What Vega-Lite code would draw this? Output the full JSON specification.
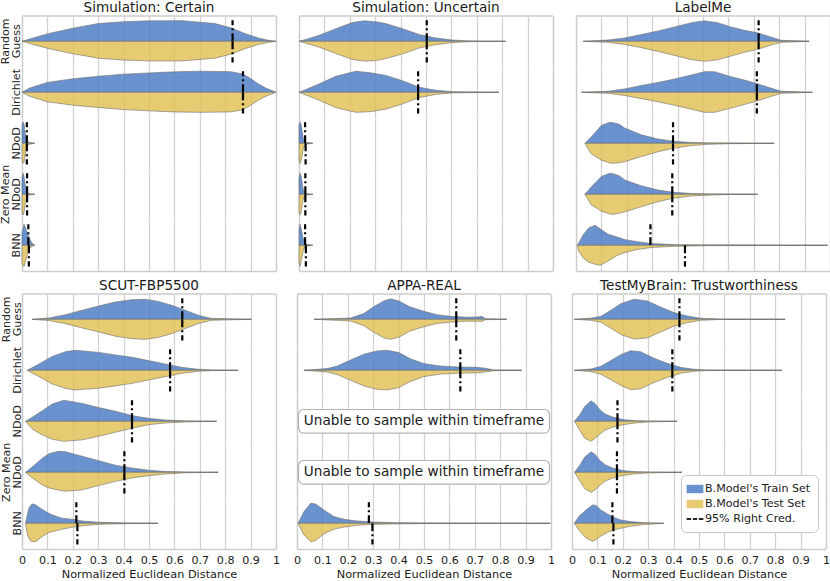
{
"$schema": "https://vega.github.io/schema/vega-lite/v6.json",
"padding": {"left": 0, "top": 1, "right": 0, "bottom": 0},
"background": "white",
"config": {"font": "DejaVu Sans", "view": {"stroke": null}},
"data": {"values": [
{"d":"SC","m":"RG","x":0,"a":0,"b":0},{"d":"SC","m":"RG","x":0.05,"a":0.18,"b":0.17},{"d":"SC","m":"RG","x":0.106,"a":0.37,"b":0.35},{"d":"SC","m":"RG","x":0.2,"a":0.62,"b":0.59},{"d":"SC","m":"RG","x":0.3,"a":0.84,"b":0.8},{"d":"SC","m":"RG","x":0.4,"a":0.93,"b":0.89},{"d":"SC","m":"RG","x":0.5,"a":0.97,"b":0.93},{"d":"SC","m":"RG","x":0.63,"a":0.98,"b":0.93},{"d":"SC","m":"RG","x":0.76,"a":0.84,"b":0.8},{"d":"SC","m":"RG","x":0.825,"a":0.63,"b":0.6},{"d":"SC","m":"RG","x":0.877,"a":0.37,"b":0.35},{"d":"SC","m":"RG","x":0.93,"a":0.16,"b":0.15},{"d":"SC","m":"RG","x":0.97,"a":0.05,"b":0.05},{"d":"SC","m":"RG","x":1,"a":0,"b":0},
{"d":"SC","m":"DI","x":0,"a":0,"b":0},{"d":"SC","m":"DI","x":0.03,"a":0.2,"b":0.19},{"d":"SC","m":"DI","x":0.1,"a":0.47,"b":0.45},{"d":"SC","m":"DI","x":0.2,"a":0.64,"b":0.61},{"d":"SC","m":"DI","x":0.3,"a":0.76,"b":0.72},{"d":"SC","m":"DI","x":0.4,"a":0.86,"b":0.82},{"d":"SC","m":"DI","x":0.5,"a":0.92,"b":0.88},{"d":"SC","m":"DI","x":0.6,"a":0.97,"b":0.93},{"d":"SC","m":"DI","x":0.7,"a":1,"b":0.95},{"d":"SC","m":"DI","x":0.82,"a":0.98,"b":0.93},{"d":"SC","m":"DI","x":0.87,"a":0.87,"b":0.83},{"d":"SC","m":"DI","x":0.9,"a":0.65,"b":0.62},{"d":"SC","m":"DI","x":0.93,"a":0.4,"b":0.38},{"d":"SC","m":"DI","x":0.96,"a":0.2,"b":0.19},{"d":"SC","m":"DI","x":1,"a":0,"b":0},
{"d":"SC","m":"ND","x":0,"a":0.85,"b":0.8},{"d":"SC","m":"ND","x":0.004,"a":1,"b":0.95},{"d":"SC","m":"ND","x":0.008,"a":0.9,"b":0.9},{"d":"SC","m":"ND","x":0.012,"a":0.55,"b":0.6},{"d":"SC","m":"ND","x":0.016,"a":0.25,"b":0.3},{"d":"SC","m":"ND","x":0.02,"a":0.1,"b":0.12},{"d":"SC","m":"ND","x":0.03,"a":0.04,"b":0.04},{"d":"SC","m":"ND","x":0.05,"a":0,"b":0},
{"d":"SC","m":"ZM","x":0,"a":0.8,"b":0.85},{"d":"SC","m":"ZM","x":0.004,"a":1,"b":0.97},{"d":"SC","m":"ZM","x":0.008,"a":0.85,"b":0.88},{"d":"SC","m":"ZM","x":0.012,"a":0.5,"b":0.55},{"d":"SC","m":"ZM","x":0.016,"a":0.22,"b":0.25},{"d":"SC","m":"ZM","x":0.02,"a":0.09,"b":0.1},{"d":"SC","m":"ZM","x":0.03,"a":0.03,"b":0.03},{"d":"SC","m":"ZM","x":0.05,"a":0,"b":0},
{"d":"SC","m":"BN","x":0,"a":0.6,"b":0.9},{"d":"SC","m":"BN","x":0.008,"a":1,"b":1},{"d":"SC","m":"BN","x":0.015,"a":0.8,"b":0.7},{"d":"SC","m":"BN","x":0.022,"a":0.55,"b":0.4},{"d":"SC","m":"BN","x":0.03,"a":0.3,"b":0.15},{"d":"SC","m":"BN","x":0.04,"a":0.1,"b":0.05},{"d":"SC","m":"BN","x":0.05,"a":0,"b":0},
{"d":"SU","m":"RG","x":0,"a":0,"b":0},{"d":"SU","m":"RG","x":0.03,"a":0.1,"b":0.1},{"d":"SU","m":"RG","x":0.08,"a":0.29,"b":0.28},{"d":"SU","m":"RG","x":0.145,"a":0.6,"b":0.58},{"d":"SU","m":"RG","x":0.21,"a":0.89,"b":0.86},{"d":"SU","m":"RG","x":0.257,"a":0.97,"b":0.94},{"d":"SU","m":"RG","x":0.3,"a":0.93,"b":0.92},{"d":"SU","m":"RG","x":0.342,"a":0.84,"b":0.82},{"d":"SU","m":"RG","x":0.407,"a":0.6,"b":0.6},{"d":"SU","m":"RG","x":0.473,"a":0.32,"b":0.32},{"d":"SU","m":"RG","x":0.538,"a":0.16,"b":0.16},{"d":"SU","m":"RG","x":0.604,"a":0.06,"b":0.06},{"d":"SU","m":"RG","x":0.669,"a":0.02,"b":0.02},{"d":"SU","m":"RG","x":0.813,"a":0,"b":0},
{"d":"SU","m":"DI","x":0,"a":0,"b":0},{"d":"SU","m":"DI","x":0.03,"a":0.15,"b":0.14},{"d":"SU","m":"DI","x":0.08,"a":0.4,"b":0.38},{"d":"SU","m":"DI","x":0.145,"a":0.76,"b":0.73},{"d":"SU","m":"DI","x":0.224,"a":1,"b":0.95},{"d":"SU","m":"DI","x":0.28,"a":0.93,"b":0.92},{"d":"SU","m":"DI","x":0.342,"a":0.8,"b":0.8},{"d":"SU","m":"DI","x":0.407,"a":0.55,"b":0.55},{"d":"SU","m":"DI","x":0.473,"a":0.24,"b":0.25},{"d":"SU","m":"DI","x":0.538,"a":0.1,"b":0.1},{"d":"SU","m":"DI","x":0.604,"a":0.03,"b":0.03},{"d":"SU","m":"DI","x":0.787,"a":0,"b":0},
{"d":"SU","m":"ND","x":0,"a":0.85,"b":0.8},{"d":"SU","m":"ND","x":0.004,"a":1,"b":0.95},{"d":"SU","m":"ND","x":0.008,"a":0.9,"b":0.85},{"d":"SU","m":"ND","x":0.012,"a":0.6,"b":0.6},{"d":"SU","m":"ND","x":0.016,"a":0.3,"b":0.3},{"d":"SU","m":"ND","x":0.02,"a":0.12,"b":0.12},{"d":"SU","m":"ND","x":0.03,"a":0.04,"b":0.04},{"d":"SU","m":"ND","x":0.054,"a":0,"b":0},
{"d":"SU","m":"ZM","x":0,"a":0.8,"b":0.85},{"d":"SU","m":"ZM","x":0.004,"a":1,"b":0.97},{"d":"SU","m":"ZM","x":0.008,"a":0.88,"b":0.85},{"d":"SU","m":"ZM","x":0.012,"a":0.58,"b":0.55},{"d":"SU","m":"ZM","x":0.016,"a":0.28,"b":0.27},{"d":"SU","m":"ZM","x":0.02,"a":0.1,"b":0.1},{"d":"SU","m":"ZM","x":0.03,"a":0.03,"b":0.03},{"d":"SU","m":"ZM","x":0.054,"a":0,"b":0},
{"d":"SU","m":"BN","x":0,"a":0.7,"b":0.8},{"d":"SU","m":"BN","x":0.004,"a":1,"b":1},{"d":"SU","m":"BN","x":0.01,"a":0.7,"b":0.65},{"d":"SU","m":"BN","x":0.015,"a":0.4,"b":0.35},{"d":"SU","m":"BN","x":0.02,"a":0.15,"b":0.12},{"d":"SU","m":"BN","x":0.03,"a":0.05,"b":0.04},{"d":"SU","m":"BN","x":0.054,"a":0,"b":0},
{"d":"LM","m":"RG","x":0.029,"a":0,"b":0},{"d":"LM","m":"RG","x":0.127,"a":0.06,"b":0.05},{"d":"LM","m":"RG","x":0.192,"a":0.16,"b":0.15},{"d":"LM","m":"RG","x":0.257,"a":0.32,"b":0.3},{"d":"LM","m":"RG","x":0.323,"a":0.49,"b":0.48},{"d":"LM","m":"RG","x":0.388,"a":0.68,"b":0.67},{"d":"LM","m":"RG","x":0.454,"a":0.88,"b":0.87},{"d":"LM","m":"RG","x":0.506,"a":0.97,"b":0.95},{"d":"LM","m":"RG","x":0.558,"a":0.88,"b":0.88},{"d":"LM","m":"RG","x":0.61,"a":0.68,"b":0.7},{"d":"LM","m":"RG","x":0.663,"a":0.52,"b":0.52},{"d":"LM","m":"RG","x":0.715,"a":0.4,"b":0.38},{"d":"LM","m":"RG","x":0.767,"a":0.2,"b":0.18},{"d":"LM","m":"RG","x":0.807,"a":0.05,"b":0.05},{"d":"LM","m":"RG","x":0.918,"a":0,"b":0},
{"d":"LM","m":"DI","x":0.022,"a":0,"b":0},{"d":"LM","m":"DI","x":0.127,"a":0.05,"b":0.05},{"d":"LM","m":"DI","x":0.192,"a":0.16,"b":0.15},{"d":"LM","m":"DI","x":0.257,"a":0.32,"b":0.3},{"d":"LM","m":"DI","x":0.323,"a":0.47,"b":0.45},{"d":"LM","m":"DI","x":0.388,"a":0.63,"b":0.62},{"d":"LM","m":"DI","x":0.454,"a":0.82,"b":0.8},{"d":"LM","m":"DI","x":0.506,"a":0.98,"b":0.95},{"d":"LM","m":"DI","x":0.545,"a":0.98,"b":0.95},{"d":"LM","m":"DI","x":0.61,"a":0.74,"b":0.75},{"d":"LM","m":"DI","x":0.663,"a":0.58,"b":0.58},{"d":"LM","m":"DI","x":0.715,"a":0.4,"b":0.4},{"d":"LM","m":"DI","x":0.767,"a":0.2,"b":0.2},{"d":"LM","m":"DI","x":0.807,"a":0.05,"b":0.05},{"d":"LM","m":"DI","x":0.931,"a":0,"b":0},
{"d":"LM","m":"ND","x":0.035,"a":0,"b":0},{"d":"LM","m":"ND","x":0.06,"a":0.3,"b":0.5},{"d":"LM","m":"ND","x":0.1,"a":0.85,"b":0.8},{"d":"LM","m":"ND","x":0.133,"a":1,"b":0.93},{"d":"LM","m":"ND","x":0.146,"a":0.98,"b":0.95},{"d":"LM","m":"ND","x":0.17,"a":0.9,"b":0.92},{"d":"LM","m":"ND","x":0.192,"a":0.72,"b":0.87},{"d":"LM","m":"ND","x":0.257,"a":0.4,"b":0.63},{"d":"LM","m":"ND","x":0.323,"a":0.2,"b":0.4},{"d":"LM","m":"ND","x":0.382,"a":0.1,"b":0.24},{"d":"LM","m":"ND","x":0.454,"a":0.04,"b":0.11},{"d":"LM","m":"ND","x":0.52,"a":0.02,"b":0.05},{"d":"LM","m":"ND","x":0.6,"a":0.01,"b":0.02},{"d":"LM","m":"ND","x":0.78,"a":0,"b":0},
{"d":"LM","m":"ZM","x":0.035,"a":0,"b":0},{"d":"LM","m":"ZM","x":0.06,"a":0.35,"b":0.5},{"d":"LM","m":"ZM","x":0.1,"a":0.85,"b":0.8},{"d":"LM","m":"ZM","x":0.133,"a":1,"b":0.93},{"d":"LM","m":"ZM","x":0.146,"a":0.98,"b":0.95},{"d":"LM","m":"ZM","x":0.17,"a":0.88,"b":0.9},{"d":"LM","m":"ZM","x":0.192,"a":0.68,"b":0.83},{"d":"LM","m":"ZM","x":0.257,"a":0.4,"b":0.59},{"d":"LM","m":"ZM","x":0.323,"a":0.2,"b":0.35},{"d":"LM","m":"ZM","x":0.382,"a":0.1,"b":0.19},{"d":"LM","m":"ZM","x":0.454,"a":0.04,"b":0.08},{"d":"LM","m":"ZM","x":0.52,"a":0.02,"b":0.04},{"d":"LM","m":"ZM","x":0.6,"a":0.01,"b":0.01},{"d":"LM","m":"ZM","x":0.715,"a":0,"b":0},
{"d":"LM","m":"BN","x":0.005,"a":0,"b":0},{"d":"LM","m":"BN","x":0.01,"a":0.1,"b":0.27},{"d":"LM","m":"BN","x":0.03,"a":0.53,"b":0.62},{"d":"LM","m":"BN","x":0.05,"a":0.82,"b":0.8},{"d":"LM","m":"BN","x":0.075,"a":0.95,"b":0.9},{"d":"LM","m":"BN","x":0.095,"a":0.78,"b":0.95},{"d":"LM","m":"BN","x":0.127,"a":0.52,"b":0.74},{"d":"LM","m":"BN","x":0.16,"a":0.4,"b":0.5},{"d":"LM","m":"BN","x":0.19,"a":0.28,"b":0.35},{"d":"LM","m":"BN","x":0.24,"a":0.17,"b":0.2},{"d":"LM","m":"BN","x":0.3,"a":0.08,"b":0.1},{"d":"LM","m":"BN","x":0.39,"a":0.03,"b":0.05},{"d":"LM","m":"BN","x":0.5,"a":0.02,"b":0.02},{"d":"LM","m":"BN","x":0.65,"a":0.02,"b":0.015},{"d":"LM","m":"BN","x":0.8,"a":0.01,"b":0.01},{"d":"LM","m":"BN","x":0.99,"a":0,"b":0},
{"d":"SF","m":"RG","x":0.04,"a":0,"b":0},{"d":"SF","m":"RG","x":0.106,"a":0.06,"b":0.06},{"d":"SF","m":"RG","x":0.171,"a":0.22,"b":0.21},{"d":"SF","m":"RG","x":0.237,"a":0.43,"b":0.41},{"d":"SF","m":"RG","x":0.302,"a":0.63,"b":0.6},{"d":"SF","m":"RG","x":0.367,"a":0.82,"b":0.8},{"d":"SF","m":"RG","x":0.433,"a":0.93,"b":0.92},{"d":"SF","m":"RG","x":0.485,"a":0.95,"b":0.95},{"d":"SF","m":"RG","x":0.537,"a":0.85,"b":0.86},{"d":"SF","m":"RG","x":0.589,"a":0.67,"b":0.68},{"d":"SF","m":"RG","x":0.642,"a":0.43,"b":0.44},{"d":"SF","m":"RG","x":0.694,"a":0.19,"b":0.2},{"d":"SF","m":"RG","x":0.746,"a":0.04,"b":0.05},{"d":"SF","m":"RG","x":0.903,"a":0,"b":0},
{"d":"SF","m":"DI","x":0.021,"a":0,"b":0},{"d":"SF","m":"DI","x":0.067,"a":0.3,"b":0.3},{"d":"SF","m":"DI","x":0.119,"a":0.66,"b":0.65},{"d":"SF","m":"DI","x":0.171,"a":0.88,"b":0.86},{"d":"SF","m":"DI","x":0.21,"a":0.95,"b":0.93},{"d":"SF","m":"DI","x":0.302,"a":0.85,"b":0.85},{"d":"SF","m":"DI","x":0.367,"a":0.73,"b":0.74},{"d":"SF","m":"DI","x":0.433,"a":0.62,"b":0.62},{"d":"SF","m":"DI","x":0.498,"a":0.46,"b":0.46},{"d":"SF","m":"DI","x":0.563,"a":0.3,"b":0.3},{"d":"SF","m":"DI","x":0.629,"a":0.14,"b":0.14},{"d":"SF","m":"DI","x":0.694,"a":0.05,"b":0.05},{"d":"SF","m":"DI","x":0.746,"a":0.01,"b":0.01},{"d":"SF","m":"DI","x":0.851,"a":0,"b":0},
{"d":"SF","m":"ND","x":0.014,"a":0,"b":0},{"d":"SF","m":"ND","x":0.04,"a":0.19,"b":0.36},{"d":"SF","m":"ND","x":0.08,"a":0.5,"b":0.65},{"d":"SF","m":"ND","x":0.119,"a":0.82,"b":0.85},{"d":"SF","m":"ND","x":0.165,"a":1,"b":0.95},{"d":"SF","m":"ND","x":0.237,"a":0.85,"b":0.88},{"d":"SF","m":"ND","x":0.302,"a":0.65,"b":0.71},{"d":"SF","m":"ND","x":0.367,"a":0.48,"b":0.52},{"d":"SF","m":"ND","x":0.433,"a":0.27,"b":0.33},{"d":"SF","m":"ND","x":0.498,"a":0.14,"b":0.16},{"d":"SF","m":"ND","x":0.563,"a":0.06,"b":0.08},{"d":"SF","m":"ND","x":0.642,"a":0.02,"b":0.03},{"d":"SF","m":"ND","x":0.766,"a":0,"b":0},
{"d":"SF","m":"ZM","x":0.014,"a":0,"b":0},{"d":"SF","m":"ZM","x":0.04,"a":0.25,"b":0.27},{"d":"SF","m":"ZM","x":0.08,"a":0.67,"b":0.6},{"d":"SF","m":"ZM","x":0.106,"a":0.88,"b":0.74},{"d":"SF","m":"ZM","x":0.145,"a":1,"b":0.85},{"d":"SF","m":"ZM","x":0.171,"a":0.97,"b":0.9},{"d":"SF","m":"ZM","x":0.237,"a":0.76,"b":0.83},{"d":"SF","m":"ZM","x":0.302,"a":0.55,"b":0.63},{"d":"SF","m":"ZM","x":0.367,"a":0.34,"b":0.43},{"d":"SF","m":"ZM","x":0.433,"a":0.2,"b":0.27},{"d":"SF","m":"ZM","x":0.498,"a":0.1,"b":0.16},{"d":"SF","m":"ZM","x":0.563,"a":0.04,"b":0.08},{"d":"SF","m":"ZM","x":0.65,"a":0.01,"b":0.02},{"d":"SF","m":"ZM","x":0.772,"a":0,"b":0},
{"d":"SF","m":"BN","x":0.014,"a":0,"b":0},{"d":"SF","m":"BN","x":0.02,"a":0.35,"b":0.47},{"d":"SF","m":"BN","x":0.027,"a":0.71,"b":0.7},{"d":"SF","m":"BN","x":0.034,"a":0.85,"b":0.84},{"d":"SF","m":"BN","x":0.04,"a":0.92,"b":0.86},{"d":"SF","m":"BN","x":0.053,"a":0.88,"b":0.87},{"d":"SF","m":"BN","x":0.08,"a":0.66,"b":0.63},{"d":"SF","m":"BN","x":0.105,"a":0.48,"b":0.44},{"d":"SF","m":"BN","x":0.119,"a":0.4,"b":0.4},{"d":"SF","m":"BN","x":0.145,"a":0.29,"b":0.32},{"d":"SF","m":"BN","x":0.158,"a":0.24,"b":0.28},{"d":"SF","m":"BN","x":0.197,"a":0.19,"b":0.19},{"d":"SF","m":"BN","x":0.237,"a":0.11,"b":0.12},{"d":"SF","m":"BN","x":0.3,"a":0.05,"b":0.05},{"d":"SF","m":"BN","x":0.4,"a":0.02,"b":0.02},{"d":"SF","m":"BN","x":0.535,"a":0,"b":0},
{"d":"AR","m":"RG","x":0.067,"a":0,"b":0},{"d":"AR","m":"RG","x":0.211,"a":0.06,"b":0.08},{"d":"AR","m":"RG","x":0.263,"a":0.27,"b":0.3},{"d":"AR","m":"RG","x":0.3,"a":0.58,"b":0.6},{"d":"AR","m":"RG","x":0.342,"a":0.87,"b":0.88},{"d":"AR","m":"RG","x":0.368,"a":0.97,"b":0.95},{"d":"AR","m":"RG","x":0.401,"a":0.87,"b":0.85},{"d":"AR","m":"RG","x":0.446,"a":0.58,"b":0.55},{"d":"AR","m":"RG","x":0.499,"a":0.38,"b":0.35},{"d":"AR","m":"RG","x":0.551,"a":0.22,"b":0.2},{"d":"AR","m":"RG","x":0.604,"a":0.14,"b":0.13},{"d":"AR","m":"RG","x":0.669,"a":0.1,"b":0.09},{"d":"AR","m":"RG","x":0.71,"a":0.11,"b":0.09},{"d":"AR","m":"RG","x":0.728,"a":0.14,"b":0.1},{"d":"AR","m":"RG","x":0.741,"a":0.03,"b":0.02},{"d":"AR","m":"RG","x":0.826,"a":0,"b":0},
{"d":"AR","m":"DI","x":0.027,"a":0,"b":0},{"d":"AR","m":"DI","x":0.119,"a":0.08,"b":0.08},{"d":"AR","m":"DI","x":0.158,"a":0.2,"b":0.2},{"d":"AR","m":"DI","x":0.211,"a":0.49,"b":0.47},{"d":"AR","m":"DI","x":0.263,"a":0.76,"b":0.74},{"d":"AR","m":"DI","x":0.315,"a":0.92,"b":0.9},{"d":"AR","m":"DI","x":0.355,"a":0.95,"b":0.93},{"d":"AR","m":"DI","x":0.401,"a":0.84,"b":0.82},{"d":"AR","m":"DI","x":0.446,"a":0.55,"b":0.53},{"d":"AR","m":"DI","x":0.499,"a":0.32,"b":0.3},{"d":"AR","m":"DI","x":0.564,"a":0.2,"b":0.18},{"d":"AR","m":"DI","x":0.63,"a":0.16,"b":0.14},{"d":"AR","m":"DI","x":0.709,"a":0.14,"b":0.12},{"d":"AR","m":"DI","x":0.748,"a":0.09,"b":0.07},{"d":"AR","m":"DI","x":0.774,"a":0.02,"b":0.02},{"d":"AR","m":"DI","x":0.885,"a":0,"b":0},
{"d":"AR","m":"BN","x":0.004,"a":0,"b":0},{"d":"AR","m":"BN","x":0.027,"a":0.55,"b":0.55},{"d":"AR","m":"BN","x":0.054,"a":0.95,"b":0.87},{"d":"AR","m":"BN","x":0.073,"a":0.92,"b":0.82},{"d":"AR","m":"BN","x":0.106,"a":0.63,"b":0.5},{"d":"AR","m":"BN","x":0.145,"a":0.32,"b":0.28},{"d":"AR","m":"BN","x":0.185,"a":0.19,"b":0.18},{"d":"AR","m":"BN","x":0.237,"a":0.11,"b":0.09},{"d":"AR","m":"BN","x":0.302,"a":0.06,"b":0.05},{"d":"AR","m":"BN","x":0.381,"a":0.03,"b":0.03},{"d":"AR","m":"BN","x":0.5,"a":0.015,"b":0.015},{"d":"AR","m":"BN","x":0.7,"a":0.01,"b":0.01},{"d":"AR","m":"BN","x":0.997,"a":0,"b":0},
{"d":"TB","m":"RG","x":0.009,"a":0,"b":0},{"d":"TB","m":"RG","x":0.074,"a":0.05,"b":0.05},{"d":"TB","m":"RG","x":0.114,"a":0.14,"b":0.14},{"d":"TB","m":"RG","x":0.153,"a":0.43,"b":0.42},{"d":"TB","m":"RG","x":0.192,"a":0.74,"b":0.72},{"d":"TB","m":"RG","x":0.244,"a":0.95,"b":0.94},{"d":"TB","m":"RG","x":0.297,"a":0.87,"b":0.88},{"d":"TB","m":"RG","x":0.349,"a":0.58,"b":0.6},{"d":"TB","m":"RG","x":0.401,"a":0.32,"b":0.33},{"d":"TB","m":"RG","x":0.454,"a":0.16,"b":0.16},{"d":"TB","m":"RG","x":0.506,"a":0.05,"b":0.05},{"d":"TB","m":"RG","x":0.584,"a":0.01,"b":0.01},{"d":"TB","m":"RG","x":0.839,"a":0,"b":0},
{"d":"TB","m":"DI","x":0.009,"a":0,"b":0},{"d":"TB","m":"DI","x":0.074,"a":0.06,"b":0.06},{"d":"TB","m":"DI","x":0.114,"a":0.19,"b":0.19},{"d":"TB","m":"DI","x":0.153,"a":0.46,"b":0.45},{"d":"TB","m":"DI","x":0.192,"a":0.74,"b":0.72},{"d":"TB","m":"DI","x":0.231,"a":0.93,"b":0.92},{"d":"TB","m":"DI","x":0.27,"a":0.88,"b":0.88},{"d":"TB","m":"DI","x":0.323,"a":0.57,"b":0.58},{"d":"TB","m":"DI","x":0.375,"a":0.33,"b":0.34},{"d":"TB","m":"DI","x":0.427,"a":0.14,"b":0.14},{"d":"TB","m":"DI","x":0.48,"a":0.05,"b":0.05},{"d":"TB","m":"DI","x":0.532,"a":0.01,"b":0.01},{"d":"TB","m":"DI","x":0.826,"a":0,"b":0},
{"d":"TB","m":"ND","x":0.01,"a":0,"b":0},{"d":"TB","m":"ND","x":0.03,"a":0.3,"b":0.42},{"d":"TB","m":"ND","x":0.05,"a":0.7,"b":0.8},{"d":"TB","m":"ND","x":0.075,"a":0.97,"b":0.95},{"d":"TB","m":"ND","x":0.09,"a":0.85,"b":0.82},{"d":"TB","m":"ND","x":0.11,"a":0.55,"b":0.6},{"d":"TB","m":"ND","x":0.13,"a":0.35,"b":0.42},{"d":"TB","m":"ND","x":0.16,"a":0.2,"b":0.28},{"d":"TB","m":"ND","x":0.2,"a":0.08,"b":0.16},{"d":"TB","m":"ND","x":0.25,"a":0.03,"b":0.08},{"d":"TB","m":"ND","x":0.3,"a":0.01,"b":0.03},{"d":"TB","m":"ND","x":0.414,"a":0,"b":0},
{"d":"TB","m":"ZM","x":0.01,"a":0,"b":0},{"d":"TB","m":"ZM","x":0.03,"a":0.32,"b":0.4},{"d":"TB","m":"ZM","x":0.05,"a":0.72,"b":0.78},{"d":"TB","m":"ZM","x":0.075,"a":0.97,"b":0.95},{"d":"TB","m":"ZM","x":0.09,"a":0.86,"b":0.84},{"d":"TB","m":"ZM","x":0.11,"a":0.56,"b":0.62},{"d":"TB","m":"ZM","x":0.13,"a":0.36,"b":0.42},{"d":"TB","m":"ZM","x":0.16,"a":0.2,"b":0.27},{"d":"TB","m":"ZM","x":0.2,"a":0.08,"b":0.15},{"d":"TB","m":"ZM","x":0.25,"a":0.03,"b":0.07},{"d":"TB","m":"ZM","x":0.3,"a":0.01,"b":0.03},{"d":"TB","m":"ZM","x":0.433,"a":0,"b":0},
{"d":"TB","m":"BN","x":0.009,"a":0,"b":0},{"d":"TB","m":"BN","x":0.029,"a":0.35,"b":0.35},{"d":"TB","m":"BN","x":0.055,"a":0.63,"b":0.7},{"d":"TB","m":"BN","x":0.081,"a":0.87,"b":0.85},{"d":"TB","m":"BN","x":0.094,"a":0.85,"b":0.78},{"d":"TB","m":"BN","x":0.114,"a":0.63,"b":0.6},{"d":"TB","m":"BN","x":0.14,"a":0.44,"b":0.43},{"d":"TB","m":"BN","x":0.166,"a":0.28,"b":0.31},{"d":"TB","m":"BN","x":0.192,"a":0.16,"b":0.24},{"d":"TB","m":"BN","x":0.231,"a":0.08,"b":0.14},{"d":"TB","m":"BN","x":0.284,"a":0.03,"b":0.06},{"d":"TB","m":"BN","x":0.362,"a":0,"b":0},
{"d":"SC","m":"RG","c1":0.829,"c2":0.829},{"d":"SC","m":"DI","c1":0.87,"c2":0.87},{"d":"SC","m":"ND","c1":0.019,"c2":0.019},{"d":"SC","m":"ZM","c1":0.02,"c2":0.02},{"d":"SC","m":"BN","c1":0.025,"c2":0.027},
{"d":"SU","m":"RG","c1":0.503,"c2":0.503},{"d":"SU","m":"DI","c1":0.469,"c2":0.469},{"d":"SU","m":"ND","c1":0.024,"c2":0.026},{"d":"SU","m":"ZM","c1":0.025,"c2":0.025},{"d":"SU","m":"BN","c1":0.024,"c2":0.027},
{"d":"LM","m":"RG","c1":0.719,"c2":0.719},{"d":"LM","m":"DI","c1":0.712,"c2":0.712},{"d":"LM","m":"ND","c1":0.382,"c2":0.382},{"d":"LM","m":"ZM","c1":0.379,"c2":0.379},{"d":"LM","m":"BN","c1":0.293,"c2":0.429},
{"d":"SF","m":"RG","c1":0.631,"c2":0.631},{"d":"SF","m":"DI","c1":0.583,"c2":0.583},{"d":"SF","m":"ND","c1":0.433,"c2":0.433},{"d":"SF","m":"ZM","c1":0.403,"c2":0.403},{"d":"SF","m":"BN","c1":0.214,"c2":0.218},
{"d":"AR","m":"RG","c1":0.627,"c2":0.627},{"d":"AR","m":"DI","c1":0.643,"c2":0.643},{"d":"AR","m":"BN","c1":0.283,"c2":0.297},
{"d":"TB","m":"RG","c1":0.423,"c2":0.423},{"d":"TB","m":"DI","c1":0.395,"c2":0.395},{"d":"TB","m":"ND","c1":0.179,"c2":0.179},{"d":"TB","m":"ZM","c1":0.177,"c2":0.177},{"d":"TB","m":"BN","c1":0.159,"c2":0.163},
{"d":"AR","m":"ND","note":"Unable to sample within timeframe"},{"d":"AR","m":"ZM","note":"Unable to sample within timeframe"}
]},
"spacing": 8,
"vconcat": [
{
 "transform": [{"filter": {"field": "d", "oneOf": ["SC","SU","LM"]}}],
 "facet": {
  "row": {"field": "m", "type": "nominal", "sort": ["RG","DI","ND","ZM","BN"], "title": null,
   "header": {"labelExpr": "datum.value=='RG' ? ['Random','Guess'] : datum.value=='DI' ? 'Dirichlet' : datum.value=='ND' ? 'NDoD' : datum.value=='ZM' ? ['Zero Mean','NDoD'] : 'BNN'", "labelAngle": -90, "labelAlign": "center", "labelBaseline": "top", "labelFontSize": 11.1, "labelLineHeight": 10.5, "labelPadding": -2, "labelColor": "#262626"}},
  "column": {"field": "d", "type": "nominal", "sort": ["SC","SU","LM"], "title": null,
   "header": {"labelExpr": "datum.value=='SC' ? 'Simulation: Certain' : datum.value=='SU' ? 'Simulation: Uncertain' : 'LabelMe'", "labelFontSize": 13.6, "labelPadding": 0, "labelColor": "#1a1a1a"}}
 },
 "spacing": {"row": 0, "column": 19},
 "resolve": {"scale": {"y": "independent"}, "axis": {"y": "independent"}},
 "spec": {
  "width": 254, "height": 50.6,
  "layer": [
   {"layer": [
    {"transform": [{"filter": "isValid(datum.a)"}],
     "mark": {"type": "area", "fill": "#507fc5", "fillOpacity": 0.85, "stroke": "#6e6e6e", "strokeWidth": 0.6},
     "encoding": {
      "x": {"field": "x", "type": "quantitative", "scale": {"domain": [0, 1], "nice": false},
       "axis": {"orient": "bottom", "values": [0,0.05,0.1,0.15,0.2,0.25,0.3,0.35,0.4,0.45,0.5,0.55,0.6,0.65,0.7,0.75,0.8,0.85,0.9,0.95,1], "tickCount": 20, "grid": true,
        "gridColor": {"condition": {"test": "round(datum.value*20)%2==1", "value": "#dedede"}, "value": "#d2d2d2"},
        "gridDash": {"condition": {"test": "round(datum.value*20)%2==1", "value": [3,2]}, "value": []},
        "gridWidth": {"condition": {"test": "round(datum.value*20)%2==1", "value": 0.8}, "value": 1.3},
        "ticks": false, "tickSize": 0, "labels": false, "domainColor": "#cccccc", "domainWidth": 1.3, "title": null}},
      "y": {"field": "a", "type": "quantitative", "scale": {"domain": [-1.2, 1.2], "nice": false}, "axis": {"orient": "left", "minExtent": 0, "grid": false, "ticks": false, "labels": false, "title": null, "domainColor": "#cccccc", "domainWidth": 1.3}},
      "y2": {"datum": 0}
     }},
    {"transform": [{"filter": "isValid(datum.c1)"}],
     "mark": {"type": "rule", "color": "black", "strokeWidth": 2.2, "strokeDash": [8,3,2,3]},
     "encoding": {"x": {"field": "c1", "type": "quantitative"}, "y": {"datum": 0}, "y2": {"datum": 1}}},
    {"transform": [{"filter": "datum.m == 'RG' && isValid(datum.c1)"}],
     "mark": {"type": "rule", "color": "#cccccc", "strokeWidth": 1.3},
     "encoding": {"x": {"datum": 0}, "x2": {"datum": 1}, "y": {"datum": 1.2}}}
   ]},
   {"layer": [
    {"transform": [{"filter": "isValid(datum.b)"}],
     "mark": {"type": "area", "fill": "#e3c259", "fillOpacity": 0.85, "stroke": "#6e6e6e", "strokeWidth": 0.6},
     "encoding": {
      "x": {"field": "x", "type": "quantitative",
       "axis": {"orient": "bottom", "values": [0,0.05,0.1,0.15,0.2,0.25,0.3,0.35,0.4,0.45,0.5,0.55,0.6,0.65,0.7,0.75,0.8,0.85,0.9,0.95,1], "tickCount": 20, "grid": true,
        "gridColor": {"condition": {"test": "round(datum.value*20)%2==1", "value": "#dedede"}, "value": "#d2d2d2"},
        "gridDash": {"condition": {"test": "round(datum.value*20)%2==1", "value": [3,2]}, "value": []},
        "gridWidth": {"condition": {"test": "round(datum.value*20)%2==1", "value": 0.8}, "value": 1.3},
        "ticks": false, "tickSize": 0, "labels": false, "domainColor": "#cccccc", "domainWidth": 1.3, "title": null}},
      "y": {"field": "b", "type": "quantitative", "scale": {"domain": [-1.2, 1.2], "nice": false, "reverse": true}, "axis": {"orient": "right", "minExtent": 0, "grid": false, "ticks": false, "labels": false, "title": null, "domainColor": "#cccccc", "domainWidth": 1.3}},
      "y2": {"datum": 0}
     }},
    {"transform": [{"filter": "isValid(datum.c2)"}],
     "mark": {"type": "rule", "color": "black", "strokeWidth": 2.2, "strokeDash": [8,3,2,3]},
     "encoding": {"x": {"field": "c2", "type": "quantitative"}, "y": {"datum": 0}, "y2": {"datum": 1}}}
   ]}
  ],
  "resolve": {"scale": {"y": "independent"}}
 }
},
{
 "transform": [{"filter": {"field": "d", "oneOf": ["SF","AR","TB"]}}],
 "facet": {
  "row": {"field": "m", "type": "nominal", "sort": ["RG","DI","ND","ZM","BN"], "title": null,
   "header": {"labelExpr": "datum.value=='RG' ? ['Random','Guess'] : datum.value=='DI' ? 'Dirichlet' : datum.value=='ND' ? 'NDoD' : datum.value=='ZM' ? ['Zero Mean','NDoD'] : 'BNN'", "labelAngle": -90, "labelAlign": "center", "labelBaseline": "top", "labelFontSize": 11.1, "labelLineHeight": 10.5, "labelPadding": -2, "labelColor": "#262626"}},
  "column": {"field": "d", "type": "nominal", "sort": ["SF","AR","TB"], "title": null,
   "header": {"labelExpr": "datum.value=='SF' ? 'SCUT-FBP5500' : datum.value=='AR' ? 'APPA-REAL' : 'TestMyBrain: Trustworthiness'", "labelFontSize": 13.6, "labelPadding": 0, "labelColor": "#1a1a1a"}}
 },
 "spacing": {"row": 0, "column": 19},
 "resolve": {"scale": {"y": "independent"}, "axis": {"y": "independent"}},
 "spec": {
  "width": 254, "height": 50.6,
  "layer": [
   {"layer": [
    {"transform": [{"filter": "isValid(datum.a)"}],
     "mark": {"type": "area", "fillOpacity": 0.85, "stroke": "#6e6e6e", "strokeWidth": 0.6},
     "encoding": {
      "x": {"field": "x", "type": "quantitative", "scale": {"domain": [0, 1], "nice": false},
       "axis": {"orient": "bottom", "values": [0,0.05,0.1,0.15,0.2,0.25,0.3,0.35,0.4,0.45,0.5,0.55,0.6,0.65,0.7,0.75,0.8,0.85,0.9,0.95,1], "tickCount": 20, "grid": true,
        "gridColor": {"condition": {"test": "round(datum.value*20)%2==1", "value": "#dedede"}, "value": "#d2d2d2"},
        "gridDash": {"condition": {"test": "round(datum.value*20)%2==1", "value": [3,2]}, "value": []},
        "gridWidth": {"condition": {"test": "round(datum.value*20)%2==1", "value": 0.8}, "value": 1.3},
        "ticks": false, "tickSize": 0, "domainColor": "#cccccc", "domainWidth": 1.3,
        "labelExpr": "round(datum.value*20)%2==1 ? '' : format(datum.value,'~g')", "labelOverlap": false, "labelFlush": false,
        "labelFontSize": 11.1, "labelColor": "#1a1a1a", "labelPadding": 5,
        "title": "Normalized Euclidean Distance", "titleFontSize": 11.3, "titleFontWeight": "normal", "titleColor": "#1a1a1a", "titlePadding": 3}},
      "y": {"field": "a", "type": "quantitative", "scale": {"domain": [-1.2, 1.2], "nice": false}, "axis": {"orient": "left", "minExtent": 0, "grid": false, "ticks": false, "labels": false, "title": null, "domainColor": "#cccccc", "domainWidth": 1.3}},
      "y2": {"datum": 0},
      "color": {"datum": "B.Model's Train Set", "type": "nominal",
       "scale": {"domain": ["B.Model's Train Set", "B.Model's Test Set", "95% Right Cred."], "range": ["#507fc5", "#e3c259", "black"]},
       "legend": {"orient": "none", "legendX": 659, "legendY": 459, "title": null, "fillColor": "white", "strokeColor": "#c8c8c8", "cornerRadius": 5, "padding": 7,
        "labelFontSize": 11.1, "labelColor": "#1a1a1a", "labelOffset": 3, "rowPadding": 2, "symbolSize": 196, "symbolStrokeWidth": 0, "symbolOpacity": 0.85,
        "symbolType": {"expr": "datum.value == '95% Right Cred.' ? 'M-1.2,-0.15H-0.55V0.15H-1.2Z M-0.3,-0.15H0.3V0.15H-0.3Z M0.55,-0.15H1.2V0.15H0.55Z' : 'M-1.2,-0.6H1.2V0.6H-1.2Z'"}}}
     }},
    {"transform": [{"filter": "isValid(datum.c1)"}],
     "mark": {"type": "rule", "strokeWidth": 2.2, "strokeDash": [8,3,2,3]},
     "encoding": {"x": {"field": "c1", "type": "quantitative"}, "y": {"datum": 0}, "y2": {"datum": 1}, "color": {"datum": "95% Right Cred.", "type": "nominal"}}},
    {"transform": [{"filter": "datum.m == 'RG' && isValid(datum.c1)"}],
     "mark": {"type": "rule", "color": "#cccccc", "strokeWidth": 1.3},
     "encoding": {"x": {"datum": 0}, "x2": {"datum": 1}, "y": {"datum": 1.2}}},
    {"transform": [{"filter": "isValid(datum.note)"}],
     "mark": {"type": "rect", "fill": "white", "stroke": "#b4b4b4", "strokeWidth": 1.2, "cornerRadius": 5},
     "encoding": {"x": {"datum": 0.006}, "x2": {"datum": 0.994}, "y": {"datum": -0.56}, "y2": {"datum": 0.56}}},
    {"transform": [{"filter": "isValid(datum.note)"}],
     "mark": {"type": "text", "fontSize": 13.6, "color": "#1a1a1a"},
     "encoding": {"x": {"datum": 0.5}, "y": {"datum": 0}, "text": {"field": "note"}}}
   ]},
   {"layer": [
    {"transform": [{"filter": "isValid(datum.b)"}],
     "mark": {"type": "area", "fillOpacity": 0.85, "stroke": "#6e6e6e", "strokeWidth": 0.6},
     "encoding": {
      "x": {"field": "x", "type": "quantitative",
       "axis": {"orient": "bottom", "values": [0,0.05,0.1,0.15,0.2,0.25,0.3,0.35,0.4,0.45,0.5,0.55,0.6,0.65,0.7,0.75,0.8,0.85,0.9,0.95,1], "tickCount": 20, "grid": true,
        "gridColor": {"condition": {"test": "round(datum.value*20)%2==1", "value": "#dedede"}, "value": "#d2d2d2"},
        "gridDash": {"condition": {"test": "round(datum.value*20)%2==1", "value": [3,2]}, "value": []},
        "gridWidth": {"condition": {"test": "round(datum.value*20)%2==1", "value": 0.8}, "value": 1.3},
        "ticks": false, "tickSize": 0, "domainColor": "#cccccc", "domainWidth": 1.3,
        "labelExpr": "round(datum.value*20)%2==1 ? '' : format(datum.value,'~g')", "labelOverlap": false, "labelFlush": false,
        "labelFontSize": 11.1, "labelColor": "#1a1a1a", "labelPadding": 5,
        "title": "Normalized Euclidean Distance", "titleFontSize": 11.3, "titleFontWeight": "normal", "titleColor": "#1a1a1a", "titlePadding": 3}},
      "y": {"field": "b", "type": "quantitative", "scale": {"domain": [-1.2, 1.2], "nice": false, "reverse": true}, "axis": {"orient": "right", "minExtent": 0, "grid": false, "ticks": false, "labels": false, "title": null, "domainColor": "#cccccc", "domainWidth": 1.3}},
      "y2": {"datum": 0},
      "color": {"datum": "B.Model's Test Set", "type": "nominal"}
     }},
    {"transform": [{"filter": "isValid(datum.c2)"}],
     "mark": {"type": "rule", "strokeWidth": 2.2, "strokeDash": [8,3,2,3]},
     "encoding": {"x": {"field": "c2", "type": "quantitative"}, "y": {"datum": 0}, "y2": {"datum": 1}, "color": {"datum": "95% Right Cred.", "type": "nominal"}}}
   ]}
  ],
  "resolve": {"scale": {"y": "independent"}}
 }
}
]
}
